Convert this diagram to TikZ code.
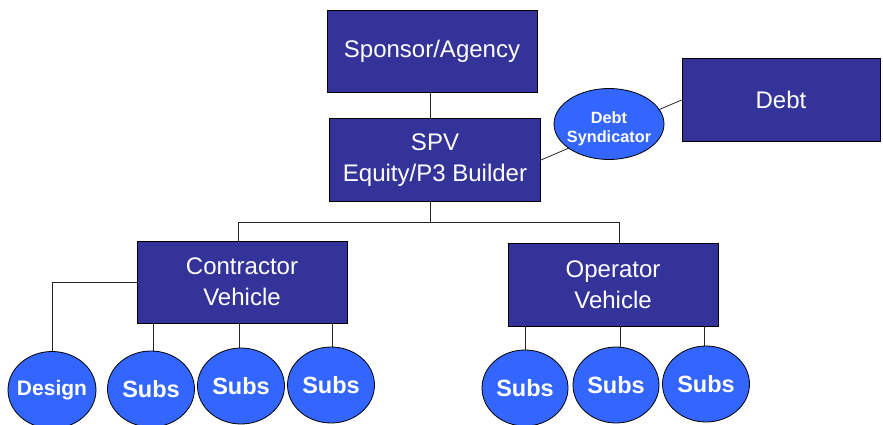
\documentclass[tikz,border=0pt]{standalone}
\usepackage{fontspec}
\setmainfont{Liberation Sans}
\usetikzlibrary{shapes.geometric,backgrounds}
\definecolor{boxblue}{HTML}{333399}
\definecolor{ellblue}{HTML}{3366FF}
\newcommand{\zw}[1]{\makebox[0pt]{#1}}
\begin{document}
\begin{tikzpicture}[x=1pt,y=-1pt,
  boxnode/.style={draw=black,line width=0.8pt,fill=boxblue,text=white,minimum width=210pt,minimum height=82pt,inner sep=0pt,align=center,font=\fontsize{24}{31}\selectfont},
  ellnode/.style={ellipse,draw=black,line width=0.8pt,fill=ellblue,text=white,minimum width=87pt,minimum height=76pt,inner sep=0pt,align=center,font=\bfseries\fontsize{23.5}{27}\selectfont},
  conn/.style={draw=black!85,line width=0.8pt}]
\useasboundingbox (0,0) rectangle (883,425);
\node[boxnode] (sponsor) at (432,51) {Sponsor/Agency};
\node[boxnode,minimum width=211pt,minimum height=83pt] (spv) at (435,160) {SPV\\Equity/P3 Builder};
\node[boxnode,minimum width=198pt,minimum height=83pt] (debt) at (781,100) {Debt};
\node[ellnode,minimum width=110pt,minimum height=71pt,
  label={[yshift=-5pt,text=white,align=center,inner sep=0pt,font=\bfseries\fontsize{16.3}{19}\selectfont]center:{Debt\\Syndicator}}] (synd) at (609,124) {};
\node[boxnode] (con) at (242,282) {Contractor\\Vehicle};
\node[boxnode,minimum height=83pt] (op) at (613,285) {Operator\\Vehicle};
\node[ellnode,minimum width=88pt,minimum height=77pt,font=\bfseries\fontsize{21}{25}\selectfont] (design) at (52,390) {\zw{Design}};
\node[ellnode] (cs1) at (151,389) {\zw{Subs}};
\node[ellnode] (cs2) at (241,386) {\zw{Subs}};
\node[ellnode] (cs3) at (331,385) {\zw{Subs}};
\node[ellnode,minimum width=86pt] (os1) at (525,388) {\zw{Subs}};
\node[ellnode,minimum width=86pt] (os2) at (616,385) {\zw{Subs}};
\node[ellnode] (os3) at (706,384) {\zw{Subs}};
\begin{scope}[on background layer]
\draw[conn] (sponsor.south -| 430,0) -- (spv.north -| 430,0);
\draw[conn] (spv.east) -- (debt.west);
\draw[conn] (spv.south -| 430,0) -- (430,222) coordinate (bar);
\draw[conn] (bar) -| (con.north -| 238,0);
\draw[conn] (bar) -| (op.north -| 619,0);
\draw[conn] (con.west) -| (design.north);
\draw[conn] (cs1.north -| 153,0) -- (con.south -| 153,0);
\draw[conn] (cs2.north -| 239,0) -- (con.south -| 239,0);
\draw[conn] (cs3.north -| 332,0) -- (con.south -| 332,0);
\draw[conn] (os1.north) -- (op.south -| os1.north);
\draw[conn] (os2.north -| 620,0) -- (op.south -| 620,0);
\draw[conn] (os3.north -| 704,0) -- (op.south -| 704,0);
\end{scope}
\end{tikzpicture}
\end{document}
